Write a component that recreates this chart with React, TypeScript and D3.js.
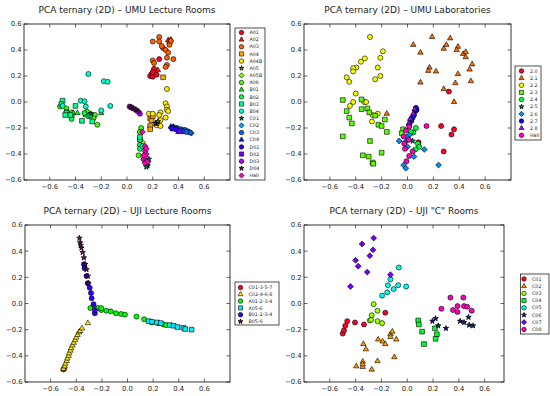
import React from 'react';
import * as d3 from 'd3';

type Pt = [number, number];

// ---- UMU Lecture Rooms ----
const umuLectureLabels = ['A01', 'A02', 'A03', 'A04', 'A04B', 'A05', 'A05B', 'A06', 'B01', 'B02', 'B03', 'B04', 'C01', 'C02', 'C03', 'C04', 'D01', 'D02', 'D03', 'D04', 'Hall'];
const umuLecturePoints: Pt[][] = [
  [[0.18, 0.2], [0.19, 0.215], [0.2, 0.195], [0.21, 0.255], [0.22, 0.215], [0.23, 0.21], [0.25, 0.33], [0.2, 0.23]],
  [[0.24, 0.245], [0.32, 0.475], [0.34, 0.48], [0.33, 0.46]],
  [[0.25, 0.5], [0.25, 0.465], [0.2, 0.465], [0.28, 0.415], [0.3, 0.4], [0.32, 0.38], [0.31, 0.34], [0.36, 0.33], [0.31, 0.285], [0.3, 0.27], [0.2, 0.32], [0.21, 0.3], [0.33, 0.44], [0.34, 0.47], [0.27, 0.43]],
  [[0.28, 0.19], [0.18, -0.125], [0.19, -0.14], [0.18, -0.185], [0.18, -0.21], [0.2, -0.11]],
  [[0.31, 0.1], [0.3, -0.01], [0.31, -0.035], [0.31, -0.06], [0.3, -0.12], [0.26, -0.08], [0.25, -0.1], [0.17, -0.09], [0.26, -0.14], [0.23, -0.18], [0.26, -0.185], [0.2, -0.09], [0.32, -0.07]],
  [[0.23, -0.165], [0.24, -0.15], [0.16, -0.49]],
  [[0.14, -0.36], [0.12, -0.31]],
  [[0.11, -0.2], [0.1, -0.23], [0.09, -0.41], [-0.52, -0.035], [-0.47, -0.05], [-0.43, -0.08], [-0.43, -0.11], [-0.31, -0.075], [-0.25, -0.1], [-0.23, -0.175], [-0.26, -0.125]],
  [[-0.42, -0.085], [-0.385, -0.085], [-0.2, -0.085], [-0.32, -0.1]],
  [[-0.47, -0.075], [-0.43, -0.13], [-0.33, -0.085], [-0.3, -0.11], [0.1, -0.29], [0.1, -0.33], [0.1, -0.36], [0.13, -0.44], [0.15, -0.48]],
  [[-0.5, 0.01], [-0.51, -0.015], [-0.4, -0.03], [-0.47, -0.085], [-0.44, -0.1], [-0.35, -0.145], [-0.27, -0.15], [-0.285, -0.1], [0.1, -0.29], [0.1, -0.27], [-0.48, -0.1]],
  [[-0.3, 0.215], [-0.18, 0.16], [-0.15, 0.155], [-0.13, -0.03], [-0.36, 0.01], [-0.33, 0.005], [-0.32, -0.035], [-0.2, -0.065], [-0.5, -0.03], [0.12, -0.34]],
  [[0.16, -0.47], [0.15, -0.5], [0.17, -0.44], [-0.28, -0.09]],
  [[0.37, -0.2], [0.4, -0.21], [0.44, -0.22], [0.48, -0.23], [0.5, -0.24], [0.36, -0.19]],
  [[0.39, -0.2], [0.42, -0.21], [0.45, -0.215], [0.47, -0.225], [0.49, -0.235], [0.43, -0.225], [0.46, -0.23]],
  [[0.34, -0.19], [0.36, -0.195], [0.4, -0.23], [0.38, -0.205]],
  [[0.35, -0.205], [0.38, -0.21]],
  [[0.41, -0.225]],
  [[0.02, -0.035], [0.04, -0.045], [0.06, -0.055], [0.08, -0.07], [0.1, -0.09], [0.03, -0.04]],
  [[0.03, -0.04], [0.05, -0.05], [0.07, -0.06], [0.09, -0.075], [0.22, -0.165]],
  [[0.12, -0.23], [0.14, -0.34], [0.14, -0.38], [0.15, -0.4], [0.13, -0.44], [0.14, -0.47], [0.14, -0.42], [0.15, -0.36], [0.16, -0.46], [0.13, -0.41]],
];

// ---- UMU Laboratories ----
const umuLabLabels = ['2.0', '2.1', '2.2', '2.3', '2.4', '2.5', '2.6', '2.7', '2.8', 'Hall'];
const umuLabPoints: Pt[][] = [
  [[0.32, 0.08], [0.26, -0.185], [0.36, -0.21], [0.34, -0.25], [0.28, -0.38], [0.085, -0.31]],
  [[0.045, 0.44], [0.1, 0.38], [0.19, 0.5], [0.17, 0.265], [0.16, 0.24], [0.22, 0.235], [0.1, 0.15], [0.28, 0.41], [0.3, 0.44], [0.33, 0.49], [0.39, 0.425], [0.38, 0.4], [0.43, 0.37], [0.45, 0.385], [0.45, 0.345], [0.5, 0.29], [0.48, 0.25], [0.39, 0.215], [0.37, 0.145], [0.49, 0.16], [0.28, 0.1], [0.36, 0.0], [-0.16, -0.09]],
  [[-0.29, 0.5], [-0.19, 0.39], [-0.21, 0.34], [-0.33, 0.335], [-0.36, 0.31], [-0.395, 0.265], [-0.42, 0.26], [-0.42, 0.235], [-0.23, 0.265], [-0.21, 0.2], [-0.25, 0.175], [-0.47, 0.19], [-0.45, 0.155], [-0.4, 0.065], [-0.42, 0.0], [-0.445, -0.03], [-0.335, 0.0], [-0.32, 0.0], [-0.23, -0.09], [-0.27, -0.1], [-0.275, -0.15]],
  [[-0.5, 0.015], [-0.47, -0.07], [-0.45, -0.12], [-0.43, -0.165], [-0.5, -0.265], [-0.355, 0.02], [-0.355, -0.055], [-0.31, -0.05], [-0.295, -0.08], [-0.25, -0.105], [-0.225, -0.175], [-0.2, -0.185], [-0.175, -0.135], [-0.16, -0.23], [-0.29, -0.3], [-0.345, -0.41], [-0.3, -0.42], [-0.27, -0.465], [-0.265, -0.475], [-0.2, -0.39], [-0.035, -0.21], [-0.045, -0.24]],
  [[0.065, -0.2], [0.045, -0.235], [0.08, -0.32], [0.09, -0.345], [0.06, -0.365], [0.025, -0.23]],
  [[0.0, -0.27], [0.04, -0.3]],
  [[-0.065, -0.3], [-0.013, -0.305], [0.0, -0.345], [0.05, -0.42], [0.13, -0.365], [0.24, -0.485], [-0.03, -0.485], [-0.013, -0.51], [0.013, -0.255], [-0.005, -0.27]],
  [[0.065, -0.045], [0.06, -0.07], [0.05, -0.1], [0.04, -0.12], [0.03, -0.145], [0.015, -0.175], [0.07, -0.06]],
  [[0.055, -0.055], [0.045, -0.09], [0.02, -0.13], [0.01, -0.165]],
  [[0.013, -0.19], [-0.013, -0.22], [-0.03, -0.265], [-0.025, -0.32], [-0.02, -0.36], [0.013, -0.415], [-0.008, -0.455], [0.04, -0.38], [0.147, -0.185], [0.01, -0.29]],
];

// ---- UJI Lecture Rooms ----
const ujiLectureLabels = ['C01-3-5-7', 'C02-4-6-8', 'A01-2-3-4', 'A05-6', 'B01-2-3-4', 'B05-6'];
const ujiLecturePoints: Pt[][] = [
  [[-0.5, -0.505], [-0.495, -0.495]],
  [[-0.5, -0.5], [-0.49, -0.48], [-0.485, -0.46], [-0.475, -0.44], [-0.47, -0.42], [-0.46, -0.4], [-0.455, -0.38], [-0.445, -0.36], [-0.44, -0.34], [-0.43, -0.32], [-0.42, -0.3], [-0.41, -0.28], [-0.4, -0.26], [-0.39, -0.24], [-0.38, -0.22], [-0.37, -0.21], [-0.355, -0.19], [-0.31, -0.15]],
  [[-0.29, -0.035], [-0.255, -0.035], [-0.23, -0.035], [-0.205, -0.05], [-0.165, -0.055], [-0.13, -0.06], [-0.09, -0.075], [-0.05, -0.08], [-0.02, -0.085], [0.07, -0.1], [0.13, -0.12], [0.19, -0.145], [0.24, -0.15], [0.28, -0.16], [0.3, -0.165], [-0.205, -0.035]],
  [[0.165, -0.135], [0.19, -0.14], [0.23, -0.145], [0.33, -0.165], [0.36, -0.17], [0.39, -0.18], [0.435, -0.185], [0.45, -0.195], [0.5, -0.2], [0.26, -0.15]],
  [[-0.255, -0.075], [-0.255, -0.05], [-0.265, -0.005], [-0.28, 0.04], [-0.285, 0.08], [-0.295, 0.12], [-0.31, 0.155], [-0.32, 0.21], [-0.335, 0.27], [-0.34, 0.3]],
  [[-0.375, 0.5], [-0.37, 0.465], [-0.36, 0.425], [-0.35, 0.39], [-0.34, 0.35], [-0.33, 0.3], [-0.32, 0.26], [-0.31, 0.21], [-0.305, 0.155], [-0.365, 0.445]],
];

// ---- UJI "C" Rooms ----
const ujiCLabels = ['C01', 'C02', 'C03', 'C04', 'C05', 'C06', 'C07', 'C08'];
const ujiCPoints: Pt[][] = [
  [[-0.5, -0.23], [-0.49, -0.205], [-0.48, -0.17], [-0.465, -0.135], [-0.405, -0.145], [-0.335, -0.16], [-0.17, -0.07]],
  [[-0.34, -0.31], [-0.32, -0.35], [-0.225, -0.275], [-0.19, -0.29], [-0.17, -0.31], [-0.13, -0.235], [-0.115, -0.215], [-0.085, -0.275], [-0.13, -0.255], [-0.1, -0.41], [-0.23, -0.44], [-0.345, -0.445], [-0.345, -0.485], [-0.395, -0.48], [-0.275, -0.505], [-0.345, -0.465]],
  [[-0.26, -0.005], [-0.23, -0.055], [-0.275, -0.09], [-0.29, -0.13], [-0.23, -0.135], [-0.195, -0.15], [-0.28, -0.125]],
  [[0.085, -0.13], [0.09, -0.16], [0.115, -0.215], [0.13, -0.31], [0.215, -0.19], [0.23, -0.235], [0.22, -0.27]],
  [[-0.065, 0.275], [-0.13, 0.185], [-0.15, 0.14], [-0.07, 0.14], [-0.008, 0.13], [-0.105, 0.11], [-0.155, 0.085], [-0.195, 0.06]],
  [[0.195, -0.135], [0.22, -0.115], [0.24, -0.17], [0.3, -0.19], [0.41, -0.135], [0.44, -0.145], [0.475, -0.105], [0.48, -0.165], [0.51, -0.17]],
  [[-0.26, 0.5], [-0.35, 0.455], [-0.265, 0.41], [-0.29, 0.365], [-0.4, 0.33], [-0.38, 0.285], [-0.31, 0.24], [-0.13, 0.22], [-0.44, 0.13]],
  [[0.335, 0.045], [0.435, 0.045], [0.265, -0.04], [0.39, -0.02], [0.44, -0.02], [0.465, -0.025], [0.355, -0.05], [0.39, -0.065], [0.5, -0.055]],
];

const axisTicks = [-0.6, -0.4, -0.2, 0.0, 0.2, 0.4, 0.6];
const markerCycle = ['o', '^', 'o', 's', 'o', '*', 'D'];

// matplotlib gist_rainbow
const rainbow = d3.scaleLinear<string>()
  .domain([0, 0.03, 0.215, 0.4, 0.586, 0.77, 0.954, 1])
  .range(['rgb(255,0,41)', '#ff0000', '#ffff00', '#00ff00', '#00ffff', '#0000ff', '#ff00ff', 'rgb(255,0,191)'])
  .interpolate(d3.interpolateRgb);

const FONT = '"DejaVu Sans", Verdana, sans-serif';
const fmt = (v: number) => d3.format('.1f')(v).replace('-', '\u2212');

function markerPath(m: string, k: number) {
  if (m === 'o') return d3.symbol(d3.symbolCircle, 20 * k)() as string;
  if (m === '^') return d3.symbol(d3.symbolTriangle, 13 * k)() as string;
  if (m === 's') return d3.symbol(d3.symbolSquare, 22 * k)() as string;
  if (m === '*') return d3.symbol(d3.symbolStar, 9 * k)() as string;
  return d3.symbol(d3.symbolSquare, 17 * k)() as string;
}

function Marker({ m, color, x, y, k = 1 }: { m: string; color: string; x: number; y: number; k?: number }) {
  const rot = m === 'D' ? ' rotate(45)' : '';
  const fill = m === '*' ? d3.interpolateRgb(color, '#000')(0.45) : color;
  return (
    <path d={markerPath(m, k)} transform={`translate(${x},${y})${rot}`} fill={fill}
      stroke="#000" strokeWidth={m === '*' ? 0.8 : 0.6} />
  );
}

type PanelProps = {
  title: string;
  labels: string[];
  points: Pt[][];
  x0: number; x1: number; y0: number; y1: number;
  xDomain: [number, number];
  legend: { x: number; y: number; w: number; h: number; first: number; step: number; mx: number; tx: number };
};

function Panel({ title, labels, points, x0, x1, y0, y1, xDomain, legend }: PanelProps) {
  const x = d3.scaleLinear().domain(xDomain).range([x0, x1]);
  const y = d3.scaleLinear().domain([-0.6, 0.6]).range([y1, y0]);
  const n = labels.length;
  const colorOf = (i: number) => rainbow(n > 1 ? i / (n - 1) : 0);
  const clipId = 'clip-' + title.replace(/[^a-zA-Z]/g, '');
  return (
    <g>
      <text x={(x0 + x1) / 2} y={y0 - 11} textAnchor="middle" fontSize={9} fontFamily={FONT} fill="#222">{title}</text>
      <clipPath id={clipId}><rect x={x0} y={y0} width={x1 - x0} height={y1 - y0} /></clipPath>
      <g clipPath={`url(#${clipId})`}>
        {points.map((s, i) => s.map((p, j) => (
          <Marker key={i + '-' + j} m={markerCycle[i % 7]} color={colorOf(i)} x={x(p[0])} y={y(p[1])} />
        )))}
      </g>
      {axisTicks.map(t => (
        <g key={'x' + t}>
          <line x1={x(t)} x2={x(t)} y1={y1} y2={y1 - 3.5} stroke="#000" strokeWidth={0.6} />
          <line x1={x(t)} x2={x(t)} y1={y0} y2={y0 + 3.5} stroke="#000" strokeWidth={0.6} />
          <text x={x(t)} y={y1 + 9} textAnchor="middle" fontSize={6.8} fontFamily={FONT} fill="#222">{fmt(t)}</text>
        </g>
      ))}
      {axisTicks.map(t => (
        <g key={'y' + t}>
          <line x1={x0} x2={x0 + 3.5} y1={y(t)} y2={y(t)} stroke="#000" strokeWidth={0.6} />
          <line x1={x1} x2={x1 - 3.5} y1={y(t)} y2={y(t)} stroke="#000" strokeWidth={0.6} />
          <text x={x0 - 2.5} y={y(t)} dy="0.35em" textAnchor="end" fontSize={6.8} fontFamily={FONT} fill="#222">{fmt(t)}</text>
        </g>
      ))}
      <rect x={x0} y={y0} width={x1 - x0} height={y1 - y0} fill="none" stroke="#000" strokeWidth={0.8} />
      <rect x={legend.x} y={legend.y} width={legend.w} height={legend.h} fill="#fff" stroke="#000" strokeWidth={0.7} />
      {labels.map((l, i) => {
        const cy = legend.first + i * legend.step;
        return (
          <g key={l}>
            <Marker m={markerCycle[i % 7]} color={colorOf(i)} x={legend.mx} y={cy} k={0.8} />
            <text x={legend.tx} y={cy} dy="0.35em" fontSize={4.8} fontFamily={FONT} fill="#222">{l}</text>
          </g>
        );
      })}
    </g>
  );
}

export default function App() {
  return (
    <svg width={550} height={396} style={{ position: 'absolute', left: 0, top: 0, background: '#fff' }}>
      <rect width={550} height={396} fill="#fff" />
      <Panel title="PCA ternary (2D) – UMU Lecture Rooms" labels={umuLectureLabels} points={umuLecturePoints}
        x0={24} x1={230} y0={24} y1={180} xDomain={[-0.8, 0.8]}
        legend={{ x: 235, y: 28, w: 30, h: 152, first: 32.5, step: 7.15, mx: 241.5, tx: 249.5 }} />
      <Panel title="PCA ternary (2D) – UMU Laboratories" labels={umuLabLabels} points={umuLabPoints}
        x0={304} x1={511} y0={24} y1={180} xDomain={[-0.8, 0.8]}
        legend={{ x: 515, y: 66, w: 26, h: 74, first: 71, step: 7.15, mx: 521.5, tx: 530 }} />
      <Panel title="PCA ternary (2D) – UJI Lecture Rooms" labels={ujiLectureLabels} points={ujiLecturePoints}
        x0={25} x1={230} y0={225} y1={382} xDomain={[-0.8, 0.8]}
        legend={{ x: 235, y: 282, w: 44, h: 43, first: 287.5, step: 6.8, mx: 240.5, tx: 248.5 }} />
      <Panel title={'PCA ternary (2D) – UJI "C" Rooms'} labels={ujiCLabels} points={ujiCPoints}
        x0={304} x1={504} y0={225} y1={382} xDomain={[-0.8, 0.75]}
        legend={{ x: 520.5, y: 274, w: 28.5, h: 60, first: 279, step: 7.2, mx: 524, tx: 532 }} />
    </svg>
  );
}
